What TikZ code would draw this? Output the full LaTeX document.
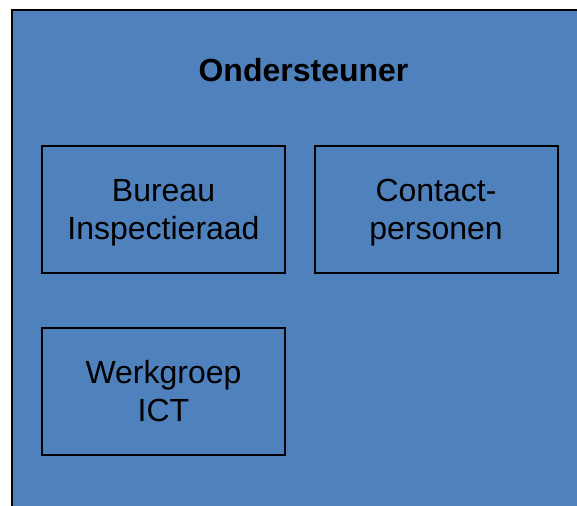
\documentclass[tikz,border=0pt]{standalone}
\usepackage{fontspec}
\setmainfont{Liberation Sans}
\definecolor{officeblue}{HTML}{4F81BD}
\begin{document}
\begin{tikzpicture}[x=1pt,y=-1pt,
  unitbox/.style={draw=black, line width=2pt, minimum width=243pt, minimum height=127pt, align=center, font=\fontsize{32}{38}\selectfont, inner sep=0pt}]
\useasboundingbox (0,0) rectangle (577,505);
\fill[white] (0,0) rectangle (577,505);
\begin{scope}
\clip (0,0) rectangle (577,505);
\draw[fill=officeblue, line width=2.5pt] (12,10) rectangle (620,560);
\end{scope}
\node[font=\bfseries\fontsize{32}{38}\selectfont] (title) at (303.5,70) {Ondersteuner};
\node[unitbox] (bureau) at (163.5,209.5) {Bureau\\\smash{Inspectieraad}};
\node[unitbox] (contact) at (436,209.5) {Contact-\\\smash{personen}};
\node[unitbox] (werk) at (163.5,391) {Werkgroep\\ICT};
\end{tikzpicture}
\end{document}
